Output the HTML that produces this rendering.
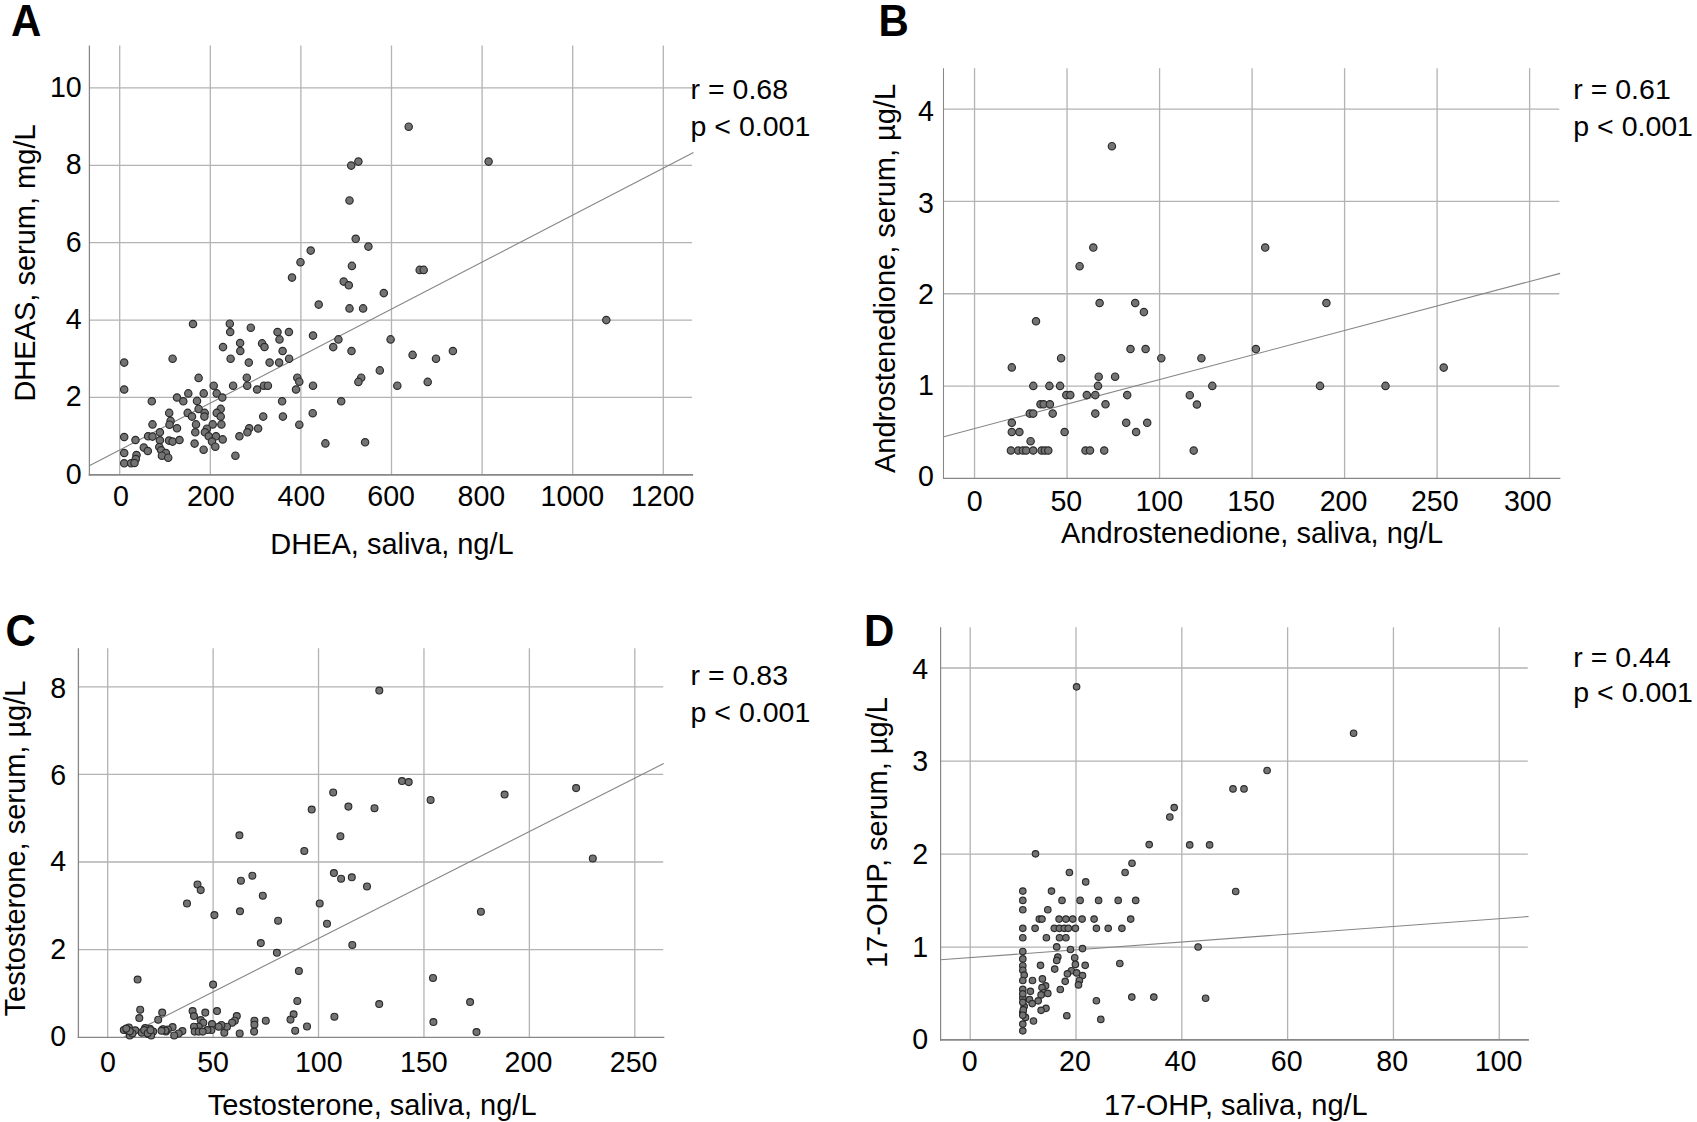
<!DOCTYPE html>
<html lang="en"><head><meta charset="utf-8"><title>Correlation of salivary and serum steroids</title>
<style>html,body{margin:0;padding:0;background:#fff}body{width:1697px;height:1122px;overflow:hidden}svg{display:block}text{font-family:"Liberation Sans",Arial,Helvetica,sans-serif;fill:#000}.t{font-size:28.6px}.l{font-size:29.0px}.a{font-size:28.5px}.p{font-size:42px;font-weight:bold}.g{stroke:#b3b3b3;stroke-width:1.3;fill:none}.x{stroke:#878787;stroke-width:1.6;fill:none}.r{stroke:#868686;stroke-width:1.1;fill:none}.d circle{fill:#737373;stroke:#2b2b2b;stroke-width:1.15}</style></head><body>
<svg width="1697" height="1122" viewBox="0 0 1697 1122">
<rect width="1697" height="1122" fill="#fff"/>
<g id="panel-A">
<path class="g" d="M119.7 45.6V474.8M210.3 45.6V474.8M300.9 45.6V474.8M391.5 45.6V474.8M482.1 45.6V474.8M572.7 45.6V474.8M663.3 45.6V474.8M89.4 397.43H692M89.4 320.06H692M89.4 242.69H692M89.4 165.32H692M89.4 87.95H692"/>
<path class="r" d="M89.3 465.7L693.5 152.5"/>
<path class="x" style="stroke-width:1.25" d="M89.4 45.6V475.65"/>
<path class="x" style="stroke-width:1.7" d="M88.78 474.8H693.1"/>
<g class="d"><circle cx="124.2" cy="362.6" r="3.7"/><circle cx="124.2" cy="389.5" r="3.7"/><circle cx="172.6" cy="358.7" r="3.7"/><circle cx="198.6" cy="377.9" r="3.7"/><circle cx="223" cy="347.1" r="3.7"/><circle cx="230.2" cy="332" r="3.7"/><circle cx="240.1" cy="343.1" r="3.7"/><circle cx="240.3" cy="351" r="3.7"/><circle cx="230.6" cy="358.7" r="3.7"/><circle cx="262.1" cy="343.4" r="3.7"/><circle cx="264.5" cy="347" r="3.7"/><circle cx="277.5" cy="332" r="3.7"/><circle cx="279.5" cy="339.4" r="3.7"/><circle cx="288.9" cy="332" r="3.7"/><circle cx="282.6" cy="351" r="3.7"/><circle cx="289.1" cy="358.7" r="3.7"/><circle cx="248.8" cy="362.6" r="3.7"/><circle cx="269.6" cy="362.6" r="3.7"/><circle cx="279.1" cy="362.6" r="3.7"/><circle cx="246.8" cy="377.7" r="3.7"/><circle cx="247.2" cy="385.7" r="3.7"/><circle cx="233.1" cy="385.7" r="3.7"/><circle cx="213.7" cy="385.7" r="3.7"/><circle cx="257.1" cy="389.5" r="3.7"/><circle cx="263.9" cy="385.7" r="3.7"/><circle cx="267.9" cy="385.7" r="3.7"/><circle cx="297.3" cy="377.7" r="3.7"/><circle cx="299.3" cy="381.7" r="3.7"/><circle cx="296" cy="389.5" r="3.7"/><circle cx="188.3" cy="393.4" r="3.7"/><circle cx="203.7" cy="393.4" r="3.7"/><circle cx="216.7" cy="393.4" r="3.7"/><circle cx="222.3" cy="397.5" r="3.7"/><circle cx="177" cy="397.5" r="3.7"/><circle cx="183.3" cy="401.3" r="3.7"/><circle cx="151.8" cy="401.3" r="3.7"/><circle cx="197" cy="400.9" r="3.7"/><circle cx="282.1" cy="401.3" r="3.7"/><circle cx="198.6" cy="408.9" r="3.7"/><circle cx="220.7" cy="408.9" r="3.7"/><circle cx="169.2" cy="412.9" r="3.7"/><circle cx="187.7" cy="412.9" r="3.7"/><circle cx="204.7" cy="412.9" r="3.7"/><circle cx="216.7" cy="412.9" r="3.7"/><circle cx="192" cy="416.6" r="3.7"/><circle cx="204.4" cy="416.6" r="3.7"/><circle cx="220.7" cy="416.6" r="3.7"/><circle cx="263.2" cy="416.6" r="3.7"/><circle cx="282.9" cy="416.6" r="3.7"/><circle cx="170.6" cy="420.9" r="3.7"/><circle cx="152.5" cy="424.4" r="3.7"/><circle cx="169.5" cy="424.7" r="3.7"/><circle cx="196" cy="424.4" r="3.7"/><circle cx="212.7" cy="424.4" r="3.7"/><circle cx="221.4" cy="424.4" r="3.7"/><circle cx="299.3" cy="424.7" r="3.7"/><circle cx="177" cy="428.3" r="3.7"/><circle cx="206.9" cy="428.7" r="3.7"/><circle cx="249.2" cy="428.3" r="3.7"/><circle cx="258.1" cy="428.5" r="3.7"/><circle cx="159.9" cy="432.3" r="3.7"/><circle cx="195.3" cy="432.3" r="3.7"/><circle cx="204.9" cy="432.3" r="3.7"/><circle cx="247.4" cy="432.3" r="3.7"/><circle cx="124.2" cy="437" r="3.7"/><circle cx="148.1" cy="436.3" r="3.7"/><circle cx="152.5" cy="436.6" r="3.7"/><circle cx="208.7" cy="436.3" r="3.7"/><circle cx="216" cy="436.3" r="3.7"/><circle cx="239.4" cy="436.3" r="3.7"/><circle cx="135.5" cy="440" r="3.7"/><circle cx="159.9" cy="440.3" r="3.7"/><circle cx="169" cy="440.6" r="3.7"/><circle cx="172.6" cy="441.6" r="3.7"/><circle cx="179.5" cy="440" r="3.7"/><circle cx="222.7" cy="439.4" r="3.7"/><circle cx="212" cy="441.6" r="3.7"/><circle cx="194.6" cy="443.6" r="3.7"/><circle cx="143.8" cy="447.6" r="3.7"/><circle cx="159.3" cy="447" r="3.7"/><circle cx="215.3" cy="446.7" r="3.7"/><circle cx="203.6" cy="449.7" r="3.7"/><circle cx="147.8" cy="451" r="3.7"/><circle cx="161.2" cy="450.3" r="3.7"/><circle cx="124.2" cy="453" r="3.7"/><circle cx="165.9" cy="453" r="3.7"/><circle cx="136.5" cy="455" r="3.7"/><circle cx="161.9" cy="455.7" r="3.7"/><circle cx="168.2" cy="457.7" r="3.7"/><circle cx="235.4" cy="455.7" r="3.7"/><circle cx="135.8" cy="459" r="3.7"/><circle cx="124.2" cy="463.3" r="3.7"/><circle cx="131.1" cy="463.3" r="3.7"/><circle cx="134.5" cy="463" r="3.7"/><circle cx="313" cy="335.6" r="3.7"/><circle cx="338.4" cy="339.4" r="3.7"/><circle cx="333.2" cy="347.1" r="3.7"/><circle cx="351.5" cy="351" r="3.7"/><circle cx="390.6" cy="339.4" r="3.7"/><circle cx="412.6" cy="354.9" r="3.7"/><circle cx="436" cy="358.7" r="3.7"/><circle cx="452.9" cy="351" r="3.7"/><circle cx="379.8" cy="370.4" r="3.7"/><circle cx="361.2" cy="377.7" r="3.7"/><circle cx="358.4" cy="381.9" r="3.7"/><circle cx="313" cy="385.7" r="3.7"/><circle cx="397.3" cy="385.7" r="3.7"/><circle cx="427.7" cy="381.9" r="3.7"/><circle cx="341.2" cy="401.3" r="3.7"/><circle cx="312.7" cy="413.2" r="3.7"/><circle cx="325.4" cy="443.4" r="3.7"/><circle cx="365.1" cy="442.3" r="3.7"/><circle cx="193" cy="324" r="3.7"/><circle cx="229.8" cy="323.7" r="3.7"/><circle cx="250.8" cy="327.7" r="3.7"/><circle cx="292" cy="277.6" r="3.7"/><circle cx="300.5" cy="262.2" r="3.7"/><circle cx="349.5" cy="200.4" r="3.7"/><circle cx="355.7" cy="238.8" r="3.7"/><circle cx="368.4" cy="246.6" r="3.7"/><circle cx="310.7" cy="250.6" r="3.7"/><circle cx="351.9" cy="265.9" r="3.7"/><circle cx="419.7" cy="269.9" r="3.7"/><circle cx="423.7" cy="269.9" r="3.7"/><circle cx="343.7" cy="281.6" r="3.7"/><circle cx="348.8" cy="285.3" r="3.7"/><circle cx="383.8" cy="293.1" r="3.7"/><circle cx="318.7" cy="304.6" r="3.7"/><circle cx="349.5" cy="308.4" r="3.7"/><circle cx="363.1" cy="308.4" r="3.7"/><circle cx="408.7" cy="126.7" r="3.7"/><circle cx="358.4" cy="161.6" r="3.7"/><circle cx="351.2" cy="165.6" r="3.7"/><circle cx="488.6" cy="161.6" r="3.7"/><circle cx="606.3" cy="320.1" r="3.7"/></g>
<text class="t" x="121" y="506.2" text-anchor="middle">0</text>
<text class="t" x="210.75" y="506.2" text-anchor="middle">200</text>
<text class="t" x="301.35" y="506.2" text-anchor="middle">400</text>
<text class="t" x="391.1" y="506.2" text-anchor="middle">600</text>
<text class="t" x="481.35" y="506.2" text-anchor="middle">800</text>
<text class="t" x="572.3" y="506.2" text-anchor="middle">1000</text>
<text class="t" x="662.7" y="506.2" text-anchor="middle">1200</text>
<text class="t" x="81.7" y="483.8" text-anchor="end">0</text>
<text class="t" x="81.7" y="406.43" text-anchor="end">2</text>
<text class="t" x="81.7" y="329.06" text-anchor="end">4</text>
<text class="t" x="81.7" y="251.69" text-anchor="end">6</text>
<text class="t" x="81.7" y="174.32" text-anchor="end">8</text>
<text class="t" x="81.7" y="96.95" text-anchor="end">10</text>
<text class="l" x="392" y="553.6" text-anchor="middle">DHEA, saliva, ng/L</text>
<text class="l" transform="translate(35.1 263) rotate(-90)" text-anchor="middle">DHEAS, serum, mg/L</text>
<text class="a" x="690.6" y="98.6">r = 0.68</text>
<text class="a" x="690.6" y="136">p &lt; 0.001</text>
<text class="p" transform="translate(11 36.2) scale(1 1.05)">A</text>
</g>
<g id="panel-B">
<path class="g" d="M974.55 68.2V478.45M1067.06 68.2V478.45M1159.57 68.2V478.45M1252.08 68.2V478.45M1344.59 68.2V478.45M1437.1 68.2V478.45M1529.61 68.2V478.45M943.5 386.11H1559.3M943.5 293.77H1559.3M943.5 201.43H1559.3M943.5 109.09H1559.3"/>
<path class="r" d="M943.8 436.7L1560.1 273.4"/>
<path class="x" style="stroke-width:1.05" d="M943.5 68.2V479.07"/>
<path class="x" style="stroke-width:1.25" d="M942.98 478.45H1560.4"/>
<g class="d"><circle cx="1130.5" cy="349" r="3.7"/><circle cx="1145.6" cy="349" r="3.7"/><circle cx="1061.1" cy="358.2" r="3.7"/><circle cx="1161.3" cy="358.2" r="3.7"/><circle cx="1011.8" cy="367.4" r="3.7"/><circle cx="1098.7" cy="376.7" r="3.7"/><circle cx="1115.1" cy="376.7" r="3.7"/><circle cx="1033.3" cy="385.9" r="3.7"/><circle cx="1049.4" cy="385.9" r="3.7"/><circle cx="1060.1" cy="385.9" r="3.7"/><circle cx="1098" cy="385.9" r="3.7"/><circle cx="1066.3" cy="395.1" r="3.7"/><circle cx="1070.3" cy="395.1" r="3.7"/><circle cx="1086.8" cy="395.1" r="3.7"/><circle cx="1095.3" cy="395.1" r="3.7"/><circle cx="1127.2" cy="395.1" r="3.7"/><circle cx="1040.5" cy="404.3" r="3.7"/><circle cx="1043.6" cy="404.3" r="3.7"/><circle cx="1049.9" cy="404.3" r="3.7"/><circle cx="1105.5" cy="404.3" r="3.7"/><circle cx="1029.8" cy="413.6" r="3.7"/><circle cx="1033.2" cy="413.6" r="3.7"/><circle cx="1052.7" cy="413.6" r="3.7"/><circle cx="1095.3" cy="413.6" r="3.7"/><circle cx="1011.8" cy="422.8" r="3.7"/><circle cx="1126.2" cy="422.8" r="3.7"/><circle cx="1147.2" cy="422.8" r="3.7"/><circle cx="1011.8" cy="432" r="3.7"/><circle cx="1019.4" cy="432" r="3.7"/><circle cx="1064.6" cy="432" r="3.7"/><circle cx="1136.1" cy="432" r="3.7"/><circle cx="1030.6" cy="441.2" r="3.7"/><circle cx="1010.9" cy="450.5" r="3.7"/><circle cx="1018.2" cy="450.5" r="3.7"/><circle cx="1022.9" cy="450.5" r="3.7"/><circle cx="1026.2" cy="450.5" r="3.7"/><circle cx="1033.2" cy="450.5" r="3.7"/><circle cx="1041.6" cy="450.5" r="3.7"/><circle cx="1044.9" cy="450.5" r="3.7"/><circle cx="1048.3" cy="450.5" r="3.7"/><circle cx="1085.5" cy="450.5" r="3.7"/><circle cx="1090" cy="450.5" r="3.7"/><circle cx="1104.2" cy="450.5" r="3.7"/><circle cx="1201.4" cy="358.2" r="3.7"/><circle cx="1255.9" cy="349.1" r="3.7"/><circle cx="1212.3" cy="385.9" r="3.7"/><circle cx="1189.8" cy="395.2" r="3.7"/><circle cx="1196.9" cy="404.5" r="3.7"/><circle cx="1193.7" cy="450.6" r="3.7"/><circle cx="1320" cy="385.9" r="3.7"/><circle cx="1385.5" cy="385.9" r="3.7"/><circle cx="1093.3" cy="247.5" r="3.7"/><circle cx="1079.6" cy="266.2" r="3.7"/><circle cx="1099.6" cy="303" r="3.7"/><circle cx="1135.2" cy="303" r="3.7"/><circle cx="1143.9" cy="312.1" r="3.7"/><circle cx="1036" cy="321.3" r="3.7"/><circle cx="1265.2" cy="247.5" r="3.7"/><circle cx="1326.4" cy="303" r="3.7"/><circle cx="1111.9" cy="146.2" r="3.7"/><circle cx="1443.7" cy="367.6" r="3.7"/></g>
<text class="t" x="974.65" y="510.9" text-anchor="middle">0</text>
<text class="t" x="1066.36" y="510.9" text-anchor="middle">50</text>
<text class="t" x="1159.27" y="510.9" text-anchor="middle">100</text>
<text class="t" x="1251.08" y="510.9" text-anchor="middle">150</text>
<text class="t" x="1343.59" y="510.9" text-anchor="middle">200</text>
<text class="t" x="1434.8" y="510.9" text-anchor="middle">250</text>
<text class="t" x="1527.81" y="510.9" text-anchor="middle">300</text>
<text class="t" x="934" y="485.9" text-anchor="end">0</text>
<text class="t" x="934" y="394.7" text-anchor="end">1</text>
<text class="t" x="934" y="303.5" text-anchor="end">2</text>
<text class="t" x="934" y="212.9" text-anchor="end">3</text>
<text class="t" x="934" y="120.6" text-anchor="end">4</text>
<text class="l" x="1252.1" y="543.1" text-anchor="middle">Androstenedione, saliva, ng/L</text>
<text class="l" transform="translate(895 278.5) rotate(-90)" text-anchor="middle">Androstenedione, serum, µg/L</text>
<text class="a" x="1573.3" y="98.6">r = 0.61</text>
<text class="a" x="1573.3" y="136">p &lt; 0.001</text>
<text class="p" transform="translate(878.5 36.2) scale(1 1.05)">B</text>
</g>
<g id="panel-C">
<path class="g" d="M107.7 648.2V1037.35M213.12 648.2V1037.35M318.54 648.2V1037.35M423.96 648.2V1037.35M529.38 648.2V1037.35M634.8 648.2V1037.35M78.4 949.6H663.2M78.4 862H663.2M78.4 774.4H663.2M78.4 686.8H663.2"/>
<path class="r" d="M123.5 1037.3L663.7 763.6"/>
<path class="x" style="stroke-width:1.3" d="M78.4 648.2V1038.02"/>
<path class="x" style="stroke-width:1.35" d="M77.75 1037.35H664.3"/>
<g class="d"><circle cx="187" cy="903.4" r="3.45"/><circle cx="214.4" cy="915.1" r="3.45"/><circle cx="240" cy="911.3" r="3.45"/><circle cx="262.8" cy="895.7" r="3.45"/><circle cx="278.1" cy="920.7" r="3.45"/><circle cx="260.8" cy="943.1" r="3.45"/><circle cx="276.9" cy="952.8" r="3.45"/><circle cx="298.9" cy="970.9" r="3.45"/><circle cx="137.6" cy="979.5" r="3.45"/><circle cx="213.1" cy="984.6" r="3.45"/><circle cx="297.3" cy="1000.9" r="3.45"/><circle cx="140.2" cy="1009.7" r="3.45"/><circle cx="139.3" cy="1018" r="3.45"/><circle cx="162.2" cy="1012.6" r="3.45"/><circle cx="158.2" cy="1019.7" r="3.45"/><circle cx="192.6" cy="1011" r="3.45"/><circle cx="194" cy="1016" r="3.45"/><circle cx="205.3" cy="1012.6" r="3.45"/><circle cx="217" cy="1011" r="3.45"/><circle cx="236.8" cy="1016" r="3.45"/><circle cx="200.7" cy="1020" r="3.45"/><circle cx="203.3" cy="1022.7" r="3.45"/><circle cx="234.8" cy="1020.7" r="3.45"/><circle cx="232.1" cy="1022.7" r="3.45"/><circle cx="254.4" cy="1020.7" r="3.45"/><circle cx="254.4" cy="1024.7" r="3.45"/><circle cx="265.8" cy="1020.7" r="3.45"/><circle cx="293.6" cy="1014.3" r="3.45"/><circle cx="290.5" cy="1019.6" r="3.45"/><circle cx="295.2" cy="1030.7" r="3.45"/><circle cx="254.1" cy="1031.6" r="3.45"/><circle cx="239.7" cy="1033.4" r="3.45"/><circle cx="224.3" cy="1032.7" r="3.45"/><circle cx="227" cy="1026.7" r="3.45"/><circle cx="221.4" cy="1024.9" r="3.45"/><circle cx="218.7" cy="1026.7" r="3.45"/><circle cx="212" cy="1024" r="3.45"/><circle cx="211.4" cy="1030" r="3.45"/><circle cx="207.4" cy="1030" r="3.45"/><circle cx="198.7" cy="1026.7" r="3.45"/><circle cx="194" cy="1026.7" r="3.45"/><circle cx="194.7" cy="1031.6" r="3.45"/><circle cx="198.7" cy="1031.6" r="3.45"/><circle cx="202.7" cy="1031.6" r="3.45"/><circle cx="182.4" cy="1031.1" r="3.45"/><circle cx="178.6" cy="1033.4" r="3.45"/><circle cx="174.2" cy="1035.4" r="3.45"/><circle cx="172.6" cy="1027.1" r="3.45"/><circle cx="167.9" cy="1029.4" r="3.45"/><circle cx="165.9" cy="1031.4" r="3.45"/><circle cx="162.6" cy="1029.4" r="3.45"/><circle cx="153.2" cy="1031.6" r="3.45"/><circle cx="149.9" cy="1028.7" r="3.45"/><circle cx="147.9" cy="1034" r="3.45"/><circle cx="151.2" cy="1035.4" r="3.45"/><circle cx="145.2" cy="1028" r="3.45"/><circle cx="141.8" cy="1032.7" r="3.45"/><circle cx="135.2" cy="1030.3" r="3.45"/><circle cx="128.9" cy="1027.4" r="3.45"/><circle cx="123.8" cy="1030" r="3.45"/><circle cx="127.8" cy="1030.7" r="3.45"/><circle cx="129.8" cy="1035.4" r="3.45"/><circle cx="132.5" cy="1033.4" r="3.45"/><circle cx="319.7" cy="903.4" r="3.45"/><circle cx="327" cy="923.7" r="3.45"/><circle cx="352.3" cy="944.9" r="3.45"/><circle cx="480.9" cy="911.7" r="3.45"/><circle cx="433" cy="977.9" r="3.45"/><circle cx="379.2" cy="1004" r="3.45"/><circle cx="470.1" cy="1002" r="3.45"/><circle cx="334.4" cy="1016.7" r="3.45"/><circle cx="433.4" cy="1022" r="3.45"/><circle cx="307" cy="1026.4" r="3.45"/><circle cx="476.5" cy="1032" r="3.45"/><circle cx="402" cy="781" r="3.45"/><circle cx="408.7" cy="782.1" r="3.45"/><circle cx="333.2" cy="792.4" r="3.45"/><circle cx="430.6" cy="799.9" r="3.45"/><circle cx="504.6" cy="794.5" r="3.45"/><circle cx="348.4" cy="806.6" r="3.45"/><circle cx="374.5" cy="808.2" r="3.45"/><circle cx="311.7" cy="809.5" r="3.45"/><circle cx="340.4" cy="836.2" r="3.45"/><circle cx="304.3" cy="850.9" r="3.45"/><circle cx="333.9" cy="873" r="3.45"/><circle cx="341.1" cy="878.7" r="3.45"/><circle cx="351.8" cy="877.3" r="3.45"/><circle cx="367" cy="886.4" r="3.45"/><circle cx="239.4" cy="835.3" r="3.45"/><circle cx="252.4" cy="875.7" r="3.45"/><circle cx="240.9" cy="880.7" r="3.45"/><circle cx="197.5" cy="884.4" r="3.45"/><circle cx="200.7" cy="890.1" r="3.45"/><circle cx="379.3" cy="690.5" r="3.45"/><circle cx="576.1" cy="788.1" r="3.45"/><circle cx="592.8" cy="858.4" r="3.45"/><circle cx="127.4" cy="1030.1" r="3.45"/><circle cx="129.8" cy="1031.2" r="3.45"/><circle cx="126.2" cy="1028.6" r="3.45"/><circle cx="163.2" cy="1029.2" r="3.45"/><circle cx="165.4" cy="1030.5" r="3.45"/><circle cx="161.5" cy="1030.8" r="3.45"/><circle cx="144.2" cy="1030" r="3.45"/><circle cx="147.7" cy="1033.2" r="3.45"/><circle cx="150.5" cy="1030.2" r="3.45"/></g>
<text class="t" x="107.85" y="1072.4" text-anchor="middle">0</text>
<text class="t" x="213.07" y="1072.4" text-anchor="middle">50</text>
<text class="t" x="318.79" y="1072.4" text-anchor="middle">100</text>
<text class="t" x="423.86" y="1072.4" text-anchor="middle">150</text>
<text class="t" x="528.48" y="1072.4" text-anchor="middle">200</text>
<text class="t" x="633.6" y="1072.4" text-anchor="middle">250</text>
<text class="t" x="66.2" y="1045.7" text-anchor="end">0</text>
<text class="t" x="66.2" y="958.8" text-anchor="end">2</text>
<text class="t" x="66.2" y="871.4" text-anchor="end">4</text>
<text class="t" x="66.2" y="784.9" text-anchor="end">6</text>
<text class="t" x="66.2" y="697.6" text-anchor="end">8</text>
<text class="l" x="372.1" y="1114.6" text-anchor="middle">Testosterone, saliva, ng/L</text>
<text class="l" transform="translate(25 848.5) rotate(-90)" text-anchor="middle">Testosterone, serum, µg/L</text>
<text class="a" x="690.6" y="684.5">r = 0.83</text>
<text class="a" x="690.6" y="721.6">p &lt; 0.001</text>
<text class="p" transform="translate(5.5 645.5) scale(1 1.05)">C</text>
</g>
<g id="panel-D">
<path class="g" d="M970.2 627.3V1039.9M1076.01 627.3V1039.9M1181.82 627.3V1039.9M1287.63 627.3V1039.9M1393.44 627.3V1039.9M1499.25 627.3V1039.9M940.6 947.15H1527.8M940.6 854.1H1527.8M940.6 761.05H1527.8M940.6 668H1527.8"/>
<path class="r" d="M940.6 959.8L1528.6 916.5"/>
<path class="x" style="stroke-width:1.2" d="M940.6 627.3V1040.85"/>
<path class="x" style="stroke-width:1.9" d="M940 1039.9H1528.9"/>
<g class="d"><circle cx="1022.8" cy="951.5" r="3.25"/><circle cx="1022.8" cy="958.9" r="3.25"/><circle cx="1022.8" cy="965.7" r="3.25"/><circle cx="1022.8" cy="970.2" r="3.25"/><circle cx="1024.2" cy="975.1" r="3.25"/><circle cx="1022.8" cy="980.5" r="3.25"/><circle cx="1022.8" cy="989.4" r="3.25"/><circle cx="1022.8" cy="997.8" r="3.25"/><circle cx="1024.2" cy="1006.3" r="3.25"/><circle cx="1022.8" cy="1012.5" r="3.25"/><circle cx="1025.5" cy="1017.4" r="3.25"/><circle cx="1022.8" cy="1024.1" r="3.25"/><circle cx="1022.8" cy="1030.8" r="3.25"/><circle cx="1022.8" cy="993.8" r="3.25"/><circle cx="1022.8" cy="1002.3" r="3.25"/><circle cx="1023.3" cy="1009.9" r="3.25"/><circle cx="1022.8" cy="1015.2" r="3.25"/><circle cx="1056.7" cy="946.9" r="3.25"/><circle cx="1070.5" cy="949.5" r="3.25"/><circle cx="1082.5" cy="948.6" r="3.25"/><circle cx="1057.8" cy="957.1" r="3.25"/><circle cx="1056.7" cy="960.4" r="3.25"/><circle cx="1074.7" cy="957.7" r="3.25"/><circle cx="1040.5" cy="965.3" r="3.25"/><circle cx="1075.4" cy="964.4" r="3.25"/><circle cx="1085.2" cy="965.3" r="3.25"/><circle cx="1119.8" cy="963.5" r="3.25"/><circle cx="1054.7" cy="969.1" r="3.25"/><circle cx="1071.4" cy="970.7" r="3.25"/><circle cx="1067.4" cy="973.8" r="3.25"/><circle cx="1076.7" cy="972.9" r="3.25"/><circle cx="1082.5" cy="975.6" r="3.25"/><circle cx="1032.5" cy="980.5" r="3.25"/><circle cx="1042.4" cy="978.9" r="3.25"/><circle cx="1065.2" cy="981.3" r="3.25"/><circle cx="1079.4" cy="980.5" r="3.25"/><circle cx="1078.5" cy="984.9" r="3.25"/><circle cx="1045.6" cy="985.8" r="3.25"/><circle cx="1042" cy="987.6" r="3.25"/><circle cx="1060.3" cy="989.5" r="3.25"/><circle cx="1030.4" cy="991.3" r="3.25"/><circle cx="1044.2" cy="992.5" r="3.25"/><circle cx="1047.8" cy="993.4" r="3.25"/><circle cx="1041.1" cy="994.9" r="3.25"/><circle cx="1029.5" cy="999.6" r="3.25"/><circle cx="1038.2" cy="1000.8" r="3.25"/><circle cx="1032.2" cy="1003.6" r="3.25"/><circle cx="1096.4" cy="1000.7" r="3.25"/><circle cx="1131.8" cy="997.1" r="3.25"/><circle cx="1153.8" cy="997.1" r="3.25"/><circle cx="1046" cy="1008.3" r="3.25"/><circle cx="1041.1" cy="1010.3" r="3.25"/><circle cx="1066.8" cy="1015.7" r="3.25"/><circle cx="1033.5" cy="1021" r="3.25"/><circle cx="1100.8" cy="1019.4" r="3.25"/><circle cx="1149.2" cy="844.6" r="3.25"/><circle cx="1035.5" cy="853.8" r="3.25"/><circle cx="1132" cy="863.2" r="3.25"/><circle cx="1069.4" cy="872.5" r="3.25"/><circle cx="1125.1" cy="872.5" r="3.25"/><circle cx="1085.7" cy="881.9" r="3.25"/><circle cx="1022.8" cy="891.1" r="3.25"/><circle cx="1051.5" cy="891.1" r="3.25"/><circle cx="1022.8" cy="900.4" r="3.25"/><circle cx="1062" cy="900.4" r="3.25"/><circle cx="1080.1" cy="900.4" r="3.25"/><circle cx="1098.6" cy="900.4" r="3.25"/><circle cx="1118.2" cy="900.4" r="3.25"/><circle cx="1135.7" cy="900.4" r="3.25"/><circle cx="1022.8" cy="909.7" r="3.25"/><circle cx="1047.8" cy="909.7" r="3.25"/><circle cx="1039.3" cy="919.1" r="3.25"/><circle cx="1042" cy="919.1" r="3.25"/><circle cx="1059.1" cy="919.1" r="3.25"/><circle cx="1065.9" cy="919.1" r="3.25"/><circle cx="1072.7" cy="919.1" r="3.25"/><circle cx="1082.1" cy="919.1" r="3.25"/><circle cx="1094.1" cy="919.1" r="3.25"/><circle cx="1130.7" cy="919.1" r="3.25"/><circle cx="1022.8" cy="928.3" r="3.25"/><circle cx="1035.1" cy="928.3" r="3.25"/><circle cx="1054.3" cy="928.3" r="3.25"/><circle cx="1059.4" cy="928.3" r="3.25"/><circle cx="1064.3" cy="928.3" r="3.25"/><circle cx="1068.3" cy="928.3" r="3.25"/><circle cx="1075.4" cy="928.3" r="3.25"/><circle cx="1096.4" cy="928.3" r="3.25"/><circle cx="1108.2" cy="928.3" r="3.25"/><circle cx="1121.9" cy="928.3" r="3.25"/><circle cx="1022.8" cy="937.7" r="3.25"/><circle cx="1046.4" cy="937.7" r="3.25"/><circle cx="1059.5" cy="937.7" r="3.25"/><circle cx="1065.9" cy="937.7" r="3.25"/><circle cx="1189.7" cy="844.9" r="3.25"/><circle cx="1209.6" cy="844.9" r="3.25"/><circle cx="1235.7" cy="891.5" r="3.25"/><circle cx="1198.1" cy="947" r="3.25"/><circle cx="1267.1" cy="770.5" r="3.25"/><circle cx="1233" cy="788.9" r="3.25"/><circle cx="1244" cy="788.9" r="3.25"/><circle cx="1174.2" cy="807.6" r="3.25"/><circle cx="1169.8" cy="817" r="3.25"/><circle cx="1353.6" cy="733.2" r="3.25"/><circle cx="1076.6" cy="686.8" r="3.25"/><circle cx="1205.6" cy="998.2" r="3.25"/></g>
<text class="t" x="969.8" y="1070.6" text-anchor="middle">0</text>
<text class="t" x="1075.01" y="1070.6" text-anchor="middle">20</text>
<text class="t" x="1180.42" y="1070.6" text-anchor="middle">40</text>
<text class="t" x="1286.73" y="1070.6" text-anchor="middle">60</text>
<text class="t" x="1392.24" y="1070.6" text-anchor="middle">80</text>
<text class="t" x="1498.55" y="1070.6" text-anchor="middle">100</text>
<text class="t" x="928.2" y="1048.8" text-anchor="end">0</text>
<text class="t" x="928.2" y="956.7" text-anchor="end">1</text>
<text class="t" x="928.2" y="863.5" text-anchor="end">2</text>
<text class="t" x="928.2" y="771.4" text-anchor="end">3</text>
<text class="t" x="928.2" y="678.8" text-anchor="end">4</text>
<text class="l" x="1235.8" y="1114.7" text-anchor="middle">17-OHP, saliva, ng/L</text>
<text class="l" transform="translate(887.2 832.6) rotate(-90)" text-anchor="middle">17-OHP, serum, µg/L</text>
<text class="a" x="1573.3" y="666.8">r = 0.44</text>
<text class="a" x="1573.3" y="702">p &lt; 0.001</text>
<text class="p" transform="translate(864 646) scale(1 1.05)">D</text>
</g>
</svg></body></html>
